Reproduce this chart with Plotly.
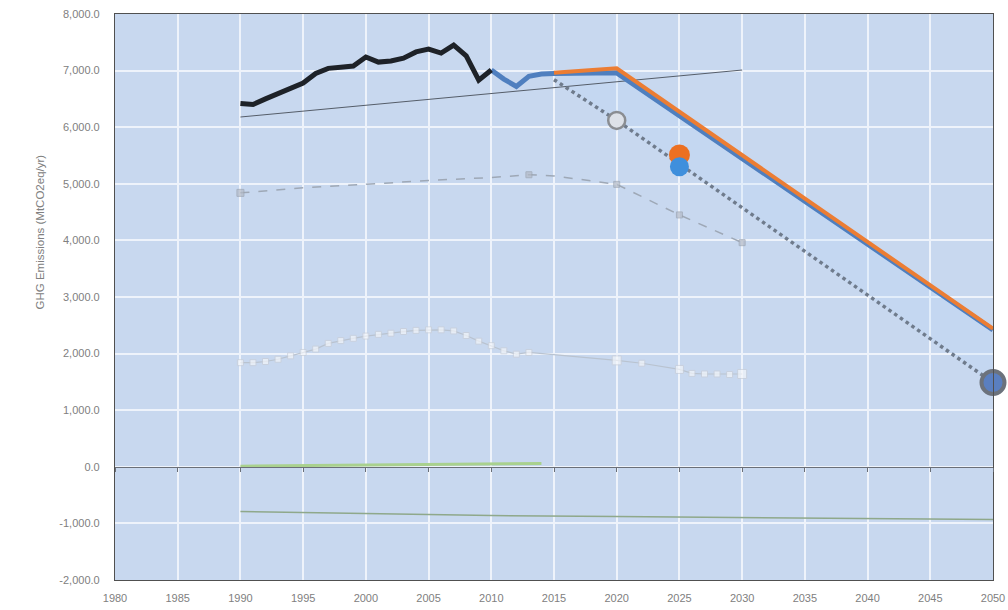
import plotly.graph_objects as go

# --- historical inventory ---
hist_years = list(range(1990, 2011))
hist_vals = [6420, 6400, 6500, 6600, 6680, 6780, 6950, 7040, 7060, 7080, 7240,
             7150, 7170, 7220, 7330, 7380, 7310, 7450, 7260, 6830, 7010]

# --- projections ---
proj_blue_years = [2010, 2011, 2012, 2013, 2014, 2015, 2020, 2050]
proj_blue_vals = [7010, 6850, 6720, 6900, 6940, 6950, 6960, 2420]
proj_orange_years = [2015, 2020, 2050]
proj_orange_vals = [6960, 7040, 2440]

# --- target pathway (dotted) ---
target_years = [2015, 2020, 2025, 2050]
target_vals = [6840, 6120, 5350, 1490]

# --- trend line ---
trend_years = [1990, 2030]
trend_vals = [6180, 7010]

# --- gray dashed series ---
gray_years = [1990, 1995, 2000, 2005, 2010, 2013, 2015, 2020, 2025, 2030]
gray_vals = [4840, 4930, 4990, 5060, 5110, 5160, 5140, 4990, 4450, 3960]
gray_marker = [7, 0, 0, 0, 0, 6, 0, 6, 6, 6]

# --- white-square series ---
sq_years = list(range(1990, 2014)) + [2020, 2022, 2025, 2026, 2027, 2028, 2029, 2030]
sq_vals = [1840, 1840, 1860, 1900, 1960, 2020, 2080, 2180, 2230, 2270, 2310, 2340,
           2360, 2390, 2410, 2420, 2420, 2400, 2320, 2220, 2140, 2050, 1990, 2020,
           1880, 1830, 1720, 1650, 1640, 1640, 1630, 1640]
sq_marker = [6] * 24 + [9, 6, 8, 6, 6, 6, 6, 9]

# --- sinks / near-zero series ---
green0_years = [1990, 1995, 2000, 2005, 2010, 2014]
green0_vals = [10, 20, 30, 40, 50, 60]
sink_years = [1990, 2000, 2010, 2020, 2030, 2040, 2050]
sink_vals = [-790, -830, -860, -880, -900, -915, -930]

# --- 2025 / 2050 target points ---
pt2025_orange = 5510
pt2025_blue = 5300
pt2020_target = 6120
pt2050_target = 1490

x_ticks = list(range(1980, 2051, 5))
y_ticks = list(range(-2000, 8001, 1000))
y_tick_text = [f"{v:,.1f}" for v in y_ticks]

fig = go.Figure()

# shaded corridor between projection and target pathway
fig.add_trace(go.Scatter(
    x=[proj_blue_years[5], proj_blue_years[6], proj_blue_years[7]] + target_years[::-1],
    y=[proj_blue_vals[5], proj_blue_vals[6], proj_blue_vals[7]] + target_vals[::-1],
    fill="toself", fillcolor="rgba(180,214,250,0.2)", line=dict(width=0),
    mode="lines", hoverinfo="skip"))

fig.add_trace(go.Scatter(x=sink_years, y=sink_vals, mode="lines",
                         line=dict(color="#8fa88a", width=1.5)))

fig.add_trace(go.Scatter(x=sq_years, y=sq_vals, mode="lines+markers",
                         line=dict(color="#b9c3d0", width=1.2),
                         marker=dict(symbol="square", size=sq_marker, color="#f4f6fa",
                                     line=dict(color="#c8ced8", width=1))))

fig.add_trace(go.Scatter(x=gray_years, y=gray_vals, mode="lines+markers",
                         line=dict(color="#9ea8b6", width=1.5, dash="dash"),
                         marker=dict(symbol="square", size=gray_marker, color="#b3bac6",
                                     line=dict(color="#9aa2ae", width=1))))

fig.add_trace(go.Scatter(x=trend_years, y=trend_vals, mode="lines",
                         line=dict(color="#555d69", width=1)))

fig.add_trace(go.Scatter(x=target_years, y=target_vals, mode="lines",
                         line=dict(color="#6f7b8c", width=3.5, dash="dot")))

fig.add_trace(go.Scatter(x=proj_blue_years, y=proj_blue_vals, mode="lines",
                         line=dict(color="#4f7fbf", width=5)))
fig.add_trace(go.Scatter(x=proj_orange_years, y=proj_orange_vals, mode="lines",
                         line=dict(color="#ec7d33", width=4)))

fig.add_trace(go.Scatter(x=hist_years, y=hist_vals, mode="lines",
                         line=dict(color="#1e2228", width=5)))

fig.add_trace(go.Scatter(x=[2020], y=[pt2020_target], mode="markers",
                         marker=dict(size=17, color="#dde1e8",
                                     line=dict(color="#8a8d92", width=2.5))))
fig.add_trace(go.Scatter(x=[2025], y=[pt2025_orange], mode="markers",
                         marker=dict(size=21, color="#ec7022", line=dict(width=0))))
fig.add_trace(go.Scatter(x=[2025], y=[pt2025_blue], mode="markers",
                         marker=dict(size=19, color="#3f8fdc", line=dict(width=0))))
fig.add_trace(go.Scatter(x=[2050], y=[pt2050_target], mode="markers",
                         marker=dict(size=23, color="#5a7fc0",
                                     line=dict(color="#6c727c", width=4)),
                         cliponaxis=False))

# near-zero series drawn on the axis that crosses at zero
fig.add_trace(go.Scatter(x=green0_years, y=green0_vals, mode="lines",
                         xaxis="x2", line=dict(color="#a9d18e", width=3)))

tick_font = dict(family="Liberation Sans", size=11, color="#808080")

fig.update_layout(
    width=1008, height=610,
    margin=dict(l=115, r=15, t=14, b=30, autoexpand=False),
    paper_bgcolor="white",
    plot_bgcolor="#c8d8ef",
    showlegend=False,
    xaxis=dict(range=[1980, 2050], tickvals=x_ticks, ticktext=[str(v) for v in x_ticks],
               showgrid=True, gridcolor="#eef3fb", gridwidth=1.5,
               showline=True, linecolor="#505050", linewidth=1.2, mirror=True,
               ticks="", tickfont=tick_font, zeroline=False, automargin=False,
               ticklabelstandoff=8),
    xaxis2=dict(range=[1980, 2050], overlaying="x", anchor="free", position=0.2,
                tickvals=x_ticks, showticklabels=False, showgrid=False,
                showline=True, linecolor="#6a6f78", linewidth=1.2,
                ticks="outside", ticklen=4, tickcolor="#6a6f78", zeroline=False,
                automargin=False),
    yaxis=dict(range=[-2000, 8000], tickvals=y_ticks, ticktext=y_tick_text,
               showgrid=True, gridcolor="#eef3fb", gridwidth=1.5,
               showline=True, linecolor="#505050", linewidth=1.2, mirror=True,
               ticks="", tickfont=tick_font, zeroline=False, ticklabelstandoff=12,
               automargin=False),
    annotations=[dict(text="GHG Emissions (MtCO2eq/yr)", textangle=-90,
                      xref="paper", yref="paper", x=-0.095, y=0.615,
                      showarrow=False,
                      font=dict(family="Liberation Sans", size=11.5, color="#808080"))],
)

fig.write_html("out.html")
